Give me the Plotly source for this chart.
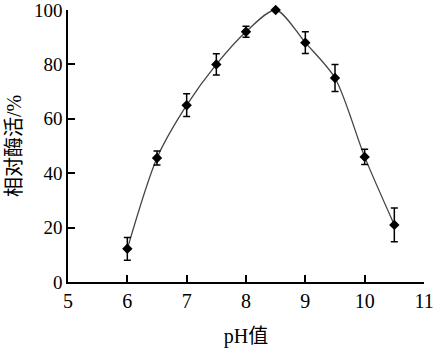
import plotly.graph_objects as go

ph = [6, 6.5, 7, 7.5, 8, 8.5, 9, 9.5, 10, 10.5]
activity = [12.2, 45.6, 65.0, 80.0, 92.0, 100.0, 88.0, 75.0, 46.0, 21.0]
err = [4.2, 2.6, 4.2, 3.9, 2.0, 0.0, 4.0, 5.0, 2.8, 6.2]
x_ticks = [5, 6, 7, 8, 9, 10, 11]
y_ticks = [0, 20, 40, 60, 80, 100]

font = "Liberation Serif, Times New Roman, Noto Sans CJK SC, serif"

fig = go.Figure()
fig.add_trace(go.Scatter(
    x=ph, y=activity, mode="lines",
    line=dict(shape="spline", smoothing=0.8, color="#444444", width=1.3),
    hoverinfo="skip", showlegend=False, cliponaxis=False,
))
fig.add_trace(go.Scatter(
    x=ph, y=activity, mode="markers",
    marker=dict(symbol="diamond", size=8, color="black"),
    error_y=dict(type="data", array=err, visible=True, color="black", thickness=1.5, width=3.5),
    showlegend=False, cliponaxis=False,
))

axis_common = dict(
    showline=True, linecolor="black", linewidth=1.5,
    ticks="inside", ticklen=7, tickwidth=1.5, tickcolor="black",
    showgrid=False, zeroline=False, mirror=False,
    ticklabeloverflow="allow", automargin=False,
)

fig.update_layout(
    width=434, height=348,
    margin=dict(l=68, r=10, t=10, b=66),
    paper_bgcolor="white", plot_bgcolor="white",
    xaxis=dict(range=[5, 11], tickvals=x_ticks, **axis_common,
               tickfont=dict(family=font, size=20, color="black"),
               title=dict(text="pH值", font=dict(family=font, size=20, color="black"), standoff=18)),
    yaxis=dict(range=[0, 100], tickvals=y_ticks, **axis_common,
               tickfont=dict(family=font, size=19, color="black"),
               title=dict(text="相对酶活/%", font=dict(family=font, size=20, color="black"), standoff=7)),
)

fig.write_html("out.html")
